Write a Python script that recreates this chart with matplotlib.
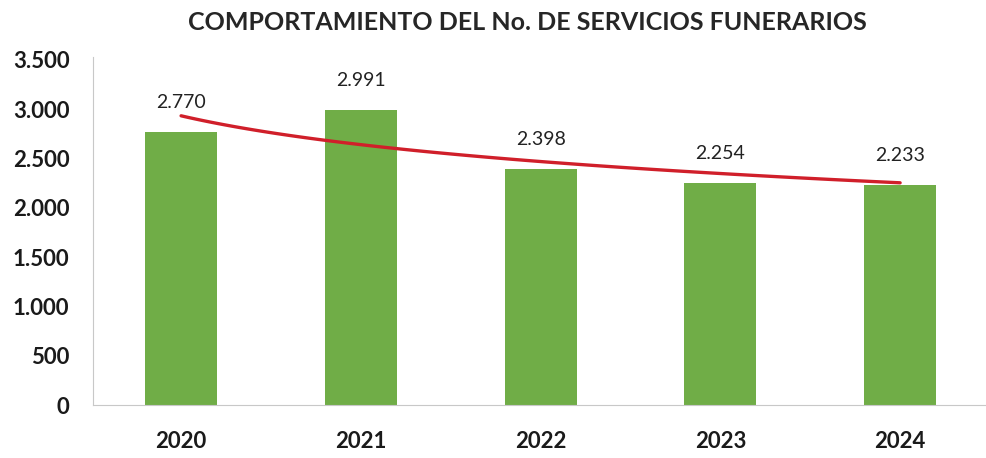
import numpy as np
import matplotlib
matplotlib.use("Agg")
import matplotlib.pyplot as plt
from matplotlib.ticker import FuncFormatter

years = ["2020", "2021", "2022", "2023", "2024"]
servicios = [2770, 2991, 2398, 2254, 2233]
y_ticks = [0, 500, 1000, 1500, 2000, 2500, 3000, 3500]

plt.rcParams['font.family'] = ['Lato', 'DejaVu Sans']

def miles(v, pos=None):
    # separador de miles con punto
    return "{:,.0f}".format(v).replace(",", ".")

fig = plt.figure(figsize=(9.87, 4.58), dpi=100)
ax = fig.add_axes([93/987, 53/458, 897/987, 348/458])

x = np.arange(len(years))
ax.bar(x, servicios, width=0.4, color="#70AD47", zorder=2)

# linea de tendencia logaritmica (como Excel)
t = np.arange(1, len(servicios) + 1)
b, a = np.polyfit(np.log(t), servicios, 1)
tt = np.linspace(1, len(servicios), 100)
ax.plot(tt - 1, a + b * np.log(tt), color="#D01F2A", lw=2.4, zorder=3,
        solid_capstyle="round")

for xi, v in zip(x, servicios):
    ax.annotate(miles(v), (xi, v), xytext=(0, 15), textcoords="offset points",
                ha="center", va="bottom", fontsize=14, color="#222222")

ax.set_xlim(-0.49, 4.5)
ax.set_ylim(0, 3530)
ax.set_xticks(x)
ax.set_xticklabels(years)
ax.set_yticks(y_ticks)
ax.yaxis.set_major_formatter(FuncFormatter(miles))
ax.tick_params(length=0, labelsize=16, colors="#1a1a1a")
ax.tick_params(axis="x", pad=19)
ax.tick_params(axis="y", pad=17)
for lab in ax.get_xticklabels() + ax.get_yticklabels():
    lab.set_fontweight("bold")

for s in ["top", "right"]:
    ax.spines[s].set_visible(False)
ax.spines["left"].set_color("#c8c8c8")
ax.spines["bottom"].set_color("#c8c8c8")

fig.text(527/987, 1 - 22/458, "COMPORTAMIENTO DEL No. DE SERVICIOS FUNERARIOS",
         ha="center", va="center", fontsize=18, fontweight="bold", color="#262626")

fig.savefig("out.png", dpi=100)
